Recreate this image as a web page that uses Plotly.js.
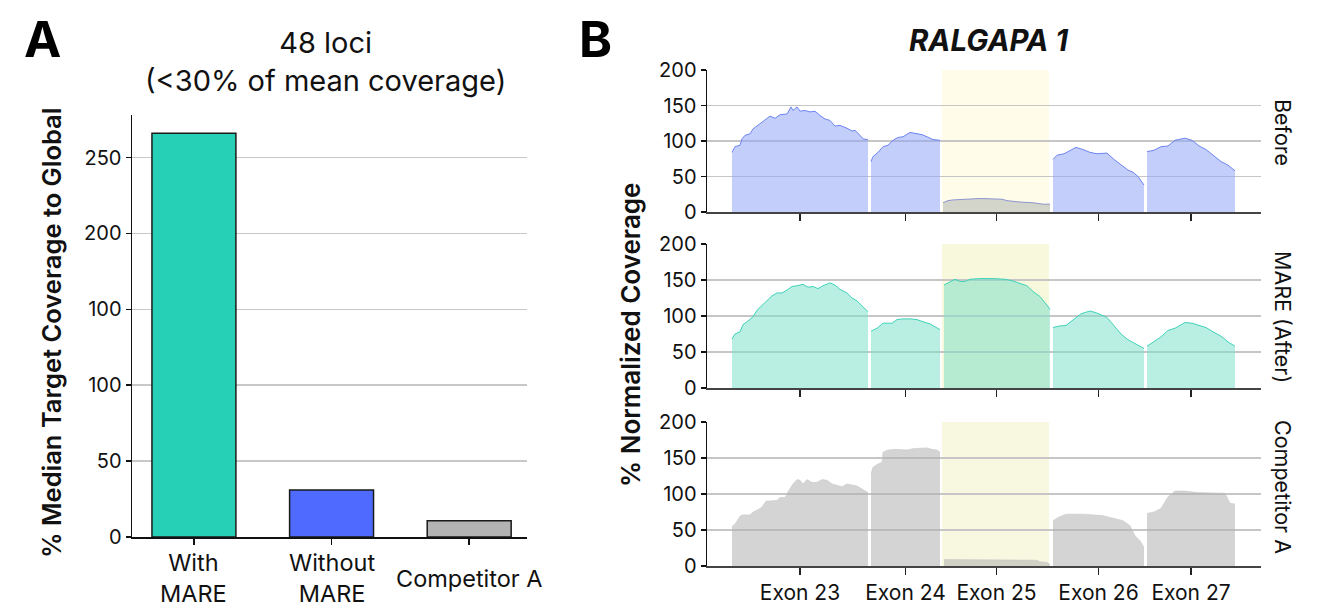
<!DOCTYPE html>
<html>
<head>
<meta charset="utf-8">
<script src="https://cdn.plot.ly/plotly-3.0.1.min.js"></script>
<style>html,body{margin:0;padding:0;background:#fff;}#chart{width:1324px;height:609px;}</style>
</head>
<body>
<div id="chart"></div>
<script>
// ---------- Panel A data ----------
const groupLabels = ['With<br>MARE', 'Without<br>MARE', 'Competitor A'];
const groupValues = [266, 31, 10.7];
const groupColors = ['#26d0b7', '#4f6bff', '#b3b3b3'];
const panelATickVals = [0, 50, 100, 150, 200, 250];
const panelATickText = ['0', '50', '100', '100', '200', '250'];

// ---------- Panel B data (position in arbitrary locus units) ----------
const exonLabels = ['Exon 23', 'Exon 24', 'Exon 25', 'Exon 26', 'Exon 27'];
const highlightedExon = 2; // Exon 25
const highlightRange = [942, 1049];

const beforePos = [
  [732,735,740,742,745,750,753,758,763,770,775,780,787,791,793,797,800,805,810,815,820,825,830,835,840,847,852,855,860,863,868],
  [871,873,878,883,888,893,898,903,910,917,922,927,933,940],
  [943,948,953,970,980,1002,1007,1020,1033,1043,1050],
  [1053,1057,1064,1071,1076,1083,1090,1097,1107,1114,1121,1128,1133,1138,1144],
  [1147,1154,1161,1168,1175,1185,1192,1199,1206,1213,1221,1228,1235]
];
const beforeCov = [
  [84,92,94,103,108,110,117,122,127,135,132,137,138,148,143,148,142,143,141,142,136,131,129,121,122,118,114,115,108,103,102],
  [71,78,84,92,94,101,105,106,112,110,109,106,102,101],
  [13,16,17,18,19,18,16,14,13,11,11],
  [74,80,82,87,91,88,84,82,83,74,66,59,56,50,38],
  [85,87,92,93,101,104,101,93,88,80,71,66,58]
];

const marePos = [
  [732,735,740,743,748,753,757,762,767,772,777,782,787,792,797,803,808,813,818,823,830,835,840,847,852,857,862,868],
  [871,877,883,892,897,903,910,917,923,930,935,940],
  [944,950,955,960,965,970,980,993,1005,1012,1020,1027,1033,1040,1047,1050],
  [1053,1059,1066,1073,1081,1090,1097,1107,1114,1121,1128,1135,1144],
  [1147,1154,1161,1168,1175,1185,1192,1199,1206,1213,1221,1228,1235]
];
const mareCov = [
  [68,75,78,88,93,99,108,115,122,128,132,132,136,141,142,144,140,141,138,142,146,143,137,132,125,121,114,106],
  [79,83,90,90,95,96,96,95,92,89,85,81],
  [143,148,151,148,148,151,152,152,151,149,145,142,134,127,115,109],
  [84,86,87,94,103,107,104,98,87,75,67,62,55],
  [58,64,71,80,83,91,90,87,84,78,72,64,58]
];

const compPos = [
  [732,735,740,743,750,753,758,762,766,772,777,780,785,788,793,797,800,803,807,812,817,822,827,832,837,842,847,852,857,862,868],
  [871,873,877,882,883,888,895,902,907,913,920,927,932,937,940],
  [944,963,997,1013,1037,1040,1047,1050],
  [1053,1059,1066,1083,1102,1114,1123,1130,1135,1140,1144],
  [1147,1154,1161,1168,1175,1185,1197,1211,1225,1230,1235]
];
const compCov = [
  [55,58,69,71,71,75,78,82,90,91,91,95,95,103,114,120,119,114,120,116,116,120,119,114,112,110,114,112,111,107,102],
  [128,137,141,144,158,161,162,162,161,163,164,164,162,161,158],
  [9,9,9,9,8,6,5,2],
  [63,68,72,72,70,66,63,56,42,35,26],
  [73,75,80,96,104,104,102,102,101,87,86]
];

const rowNames = ['Before', 'MARE (After)', 'Competitor A'];

// ---------- Build ----------
const FONT = 'Inter, "Noto Sans", "DejaVu Sans", sans-serif';
const W = 1324, H = 609;
const px = v => v / W;
const py = v => 1 - v / H;

const traces = [];
traces.push({
  type: 'bar', x: groupLabels, y: groupValues, xaxis: 'x', yaxis: 'y',
  width: 0.61,
  marker: {color: groupColors, line: {color: '#1a1a1a', width: 1.5}},
  hoverinfo: 'y'
});

const rows = [
  {pos: beforePos, cov: beforeCov, fill: 'rgba(146,166,246,0.55)', line: '#6d84f2',
   hiFill: 'rgba(184,186,182,0.6)', hiLine: '#8c95d0', band: '#fffde9'},
  {pos: marePos, cov: mareCov, fill: 'rgba(128,224,202,0.55)', line: '#3fd3bb',
   hiFill: 'rgba(128,224,202,0.55)', hiLine: '#3fd3bb', band: '#f8f8dc'},
  {pos: compPos, cov: compCov, fill: 'rgba(177,177,177,0.55)', line: 'rgba(200,200,200,0.6)',
   hiFill: 'rgba(177,177,177,0.55)', hiLine: 'rgba(200,200,200,0.6)', band: '#f8f8e0'}
];

rows.forEach((r, ri) => {
  const ax = ri + 2;
  r.pos.forEach((xs, ei) => {
    const hi = ei === highlightedExon;
    traces.push({
      type: 'scatter', mode: 'lines', x: xs, y: r.cov[ei],
      xaxis: 'x' + ax, yaxis: 'y' + ax,
      fill: 'tozeroy', fillcolor: hi ? r.hiFill : r.fill,
      line: {color: hi ? r.hiLine : r.line, width: 1},
      name: rowNames[ri] + ' ' + exonLabels[ei], hoverinfo: 'x+y'
    });
  });
});

const exonCenters = beforePos.map(xs => (xs[0] + xs[xs.length - 1]) / 2);

const layout = {
  width: W, height: H,
  margin: {l: 0, r: 0, t: 0, b: 0},
  paper_bgcolor: '#ffffff', plot_bgcolor: 'rgba(0,0,0,0)',
  showlegend: false,
  font: {family: FONT, color: '#111', size: 18},
  xaxis: {
    domain: [px(132), px(527)], anchor: 'y', type: 'category', range: [-0.45, 2.42],
    showline: true, linecolor: '#111', linewidth: 1.5,
    ticks: 'outside', ticklen: 6, tickwidth: 1.5, tickcolor: '#111',
    showticklabels: false, showgrid: false, zeroline: false
  },
  yaxis: {
    domain: [1 - 537 / H, 1 - 115 / H], anchor: 'x', range: [0, 278],
    tickvals: panelATickVals, ticktext: panelATickText,
    showline: true, linecolor: '#111', linewidth: 1.5,
    ticks: 'outside', ticklen: 5, tickwidth: 1.5, tickcolor: '#111',
    showgrid: true, gridcolor: '#c8c8c8', gridwidth: 1.5, zeroline: false,
    tickfont: {size: 20, color: '#111'}
  },
  shapes: [],
  annotations: []
};

const rowPx = [[70, 212], [244, 388], [422, 566]];
const rowLabelY = [132, 317, 487];
rowPx.forEach((rp, ri) => {
  const ax = ri + 2;
  layout['xaxis' + ax] = {
    domain: [px(707), px(1261)], anchor: 'y' + ax, range: [707, 1261],
    tickvals: exonCenters, ticktext: exonLabels,
    showticklabels: ri === 2, tickfont: {size: 21, color: '#111'},
    showline: true, linecolor: '#444', linewidth: 2,
    ticks: 'outside', ticklen: 7, tickwidth: 1.5, tickcolor: '#222',
    showgrid: false, zeroline: false
  };
  layout['yaxis' + ax] = {
    domain: [1 - rp[1] / H, 1 - rp[0] / H], anchor: 'x' + ax, range: [0, 200],
    dtick: 50, tick0: 0,
    showline: true, linecolor: '#111', linewidth: 1.5,
    ticks: 'outside', ticklen: 5, tickwidth: 1.5, tickcolor: '#111',
    showgrid: true, gridcolor: '#c6c6c6', gridwidth: 1.5, zeroline: false,
    tickfont: {size: 20, color: '#111'}
  };
  layout.shapes.push({
    type: 'rect', layer: 'below', xref: 'x' + ax, yref: 'y' + ax + ' domain',
    x0: highlightRange[0], x1: highlightRange[1], y0: 0, y1: 1,
    fillcolor: rows[ri].band, line: {width: 0}
  });
  layout.annotations.push({
    text: rowNames[ri], xref: 'paper', yref: 'paper', x: px(1283), y: py(rowLabelY[ri]),
    xanchor: 'center', yanchor: 'middle', textangle: 90, showarrow: false,
    font: {size: 21.5, color: '#111'}
  });
});

// Panel A category labels
groupLabels.forEach(g => {
  layout.annotations.push({
    text: g, xref: 'x', yref: 'paper', x: g, y: py(578),
    xanchor: 'center', yanchor: 'middle', showarrow: false,
    font: {size: 23.5, color: '#111'}
  });
});

layout.annotations.push(
  {text: '<b>A</b>', xref: 'paper', yref: 'paper', x: px(42), y: py(39), xanchor: 'center', yanchor: 'middle',
   showarrow: false, font: {size: 50, color: '#000'}},
  {text: '<b>B</b>', xref: 'paper', yref: 'paper', x: px(595), y: py(39), xanchor: 'center', yanchor: 'middle',
   showarrow: false, font: {size: 50, color: '#000'}},
  {text: '48 loci<br>(<30% of mean coverage)', xref: 'paper', yref: 'paper', x: px(325), y: py(62),
   xanchor: 'center', yanchor: 'middle', showarrow: false, font: {size: 29, color: '#111'}},
  {text: '<b><i>RALGAPA 1</i></b>', xref: 'paper', yref: 'paper', x: px(988), y: py(40),
   xanchor: 'center', yanchor: 'middle', showarrow: false, font: {size: 29.5, color: '#111'}},
  {text: '% Median Target Coverage to Global', xref: 'paper', yref: 'paper', x: px(51), y: py(333),
   xanchor: 'center', yanchor: 'middle', textangle: -90, showarrow: false,
   font: {size: 25.5, color: '#111', weight: 600}},
  {text: '% Normalized Coverage', xref: 'paper', yref: 'paper', x: px(630), y: py(335),
   xanchor: 'center', yanchor: 'middle', textangle: -90, showarrow: false,
   font: {size: 26, color: '#111', weight: 600}}
);

Plotly.newPlot('chart', traces, layout, {displayModeBar: false, staticPlot: true});
</script>
</body>
</html>
